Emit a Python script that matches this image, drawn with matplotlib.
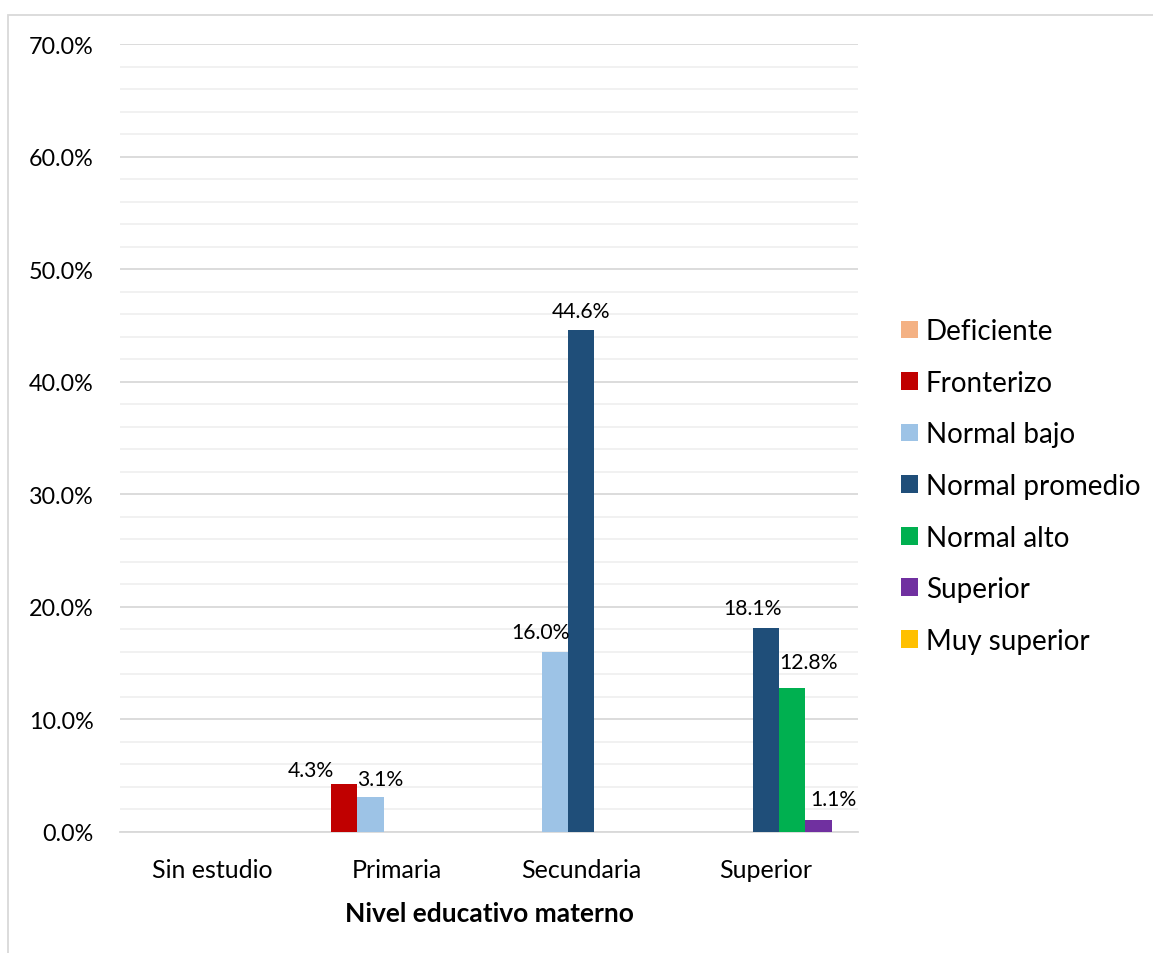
import matplotlib
matplotlib.use("Agg")
import matplotlib.pyplot as plt
from matplotlib.patches import Rectangle
from matplotlib.ticker import MultipleLocator, FuncFormatter
import numpy as np

plt.rcParams['font.family'] = ['Lato', 'DejaVu Sans']

categories = ["Sin estudio", "Primaria", "Secundaria", "Superior"]
series_names = ["Deficiente", "Fronterizo", "Normal bajo", "Normal promedio",
                "Normal alto", "Superior", "Muy superior"]
deficiente = [0.0, 0.0, 0.0, 0.0]
fronterizo = [0.0, 4.3, 0.0, 0.0]
normal_bajo = [0.0, 3.1, 16.0, 0.0]
normal_promedio = [0.0, 0.0, 44.6, 18.1]
normal_alto = [0.0, 0.0, 0.0, 12.8]
superior = [0.0, 0.0, 0.0, 1.1]
muy_superior = [0.0, 0.0, 0.0, 0.0]
values = [deficiente, fronterizo, normal_bajo, normal_promedio,
          normal_alto, superior, muy_superior]
colors = ["#F4B183", "#C00000", "#9DC3E6", "#1F4E79", "#00B050", "#7030A0", "#FFC000"]

# label offsets in pixels (dx, dy of label centre from bar top centre)
label_offsets = {
    (1, 1): (-33, 14),
    (2, 1): (10, 18),
    (2, 2): (-14, 20),
    (3, 2): (0, 19),
    (3, 3): (-13, 20),
    (4, 3): (16, 26),
    (5, 3): (15, 21),
}

W, H = 1153, 954
fig = plt.figure(figsize=(W / 100, H / 100), dpi=100)
ax = fig.add_axes([120 / W, 1 - 833 / H, (858 - 120) / W, (833 - 45) / H])

n = len(series_names)
bw = 1.0 / n
x = np.arange(len(categories))
for i, (name, vals, c) in enumerate(zip(series_names, values, colors)):
    pos = x - 0.5 + bw * (i + 0.5)
    ax.bar(pos, vals, width=bw, color=c, label=name, zorder=3, linewidth=0)
    for j, v in enumerate(vals):
        if v > 0:
            dx, dy = label_offsets.get((i, j), (0, 18))
            ax.annotate(f"{v:.1f}%", xy=(pos[j], v), xytext=(dx, dy),
                        textcoords='offset pixels', ha='center', va='center',
                        fontsize=15.2, color='#000000', zorder=4)

ax.set_xlim(-0.5, len(categories) - 0.5)
ax.set_ylim(0, 70)
ax.yaxis.set_major_locator(MultipleLocator(10))
ax.yaxis.set_minor_locator(MultipleLocator(2))
ax.yaxis.set_major_formatter(FuncFormatter(lambda v, p: f"{v:.1f}%"))
ax.grid(axis='y', which='major', color='#d9d9d9', linewidth=1.3, zorder=0)
ax.grid(axis='y', which='minor', color='#f0f0f0', linewidth=1.3, zorder=0)
ax.set_axisbelow(True)
for s in ['left', 'right', 'top']:
    ax.spines[s].set_visible(False)
ax.spines['bottom'].set_color('#d9d9d9')
ax.spines['bottom'].set_linewidth(1.3)
ax.tick_params(axis='both', which='both', length=0)
ax.tick_params(axis='y', labelsize=16.8, pad=19, colors='#000000')
ax.tick_params(axis='x', labelsize=18, pad=19, colors='#000000')
ax.set_xticks(x)
ax.set_xticklabels(categories)
ax.set_xlabel("Nivel educativo materno", fontsize=19, fontweight='bold', labelpad=14)

fig.legend(loc='center left', bbox_to_anchor=(901 / W, 1 - 487 / H), frameon=False,
           fontsize=20, handlelength=0.6, handleheight=0.6, handletextpad=0.3,
           labelspacing=0.92, borderpad=0, borderaxespad=0)

fig.patches.append(Rectangle((8 / W, -0.05), 1.2, 1.05 - 16 / H, transform=fig.transFigure,
                             fill=False, edgecolor='#d9d9d9', linewidth=1.3))

fig.savefig("out.png", dpi=100)
